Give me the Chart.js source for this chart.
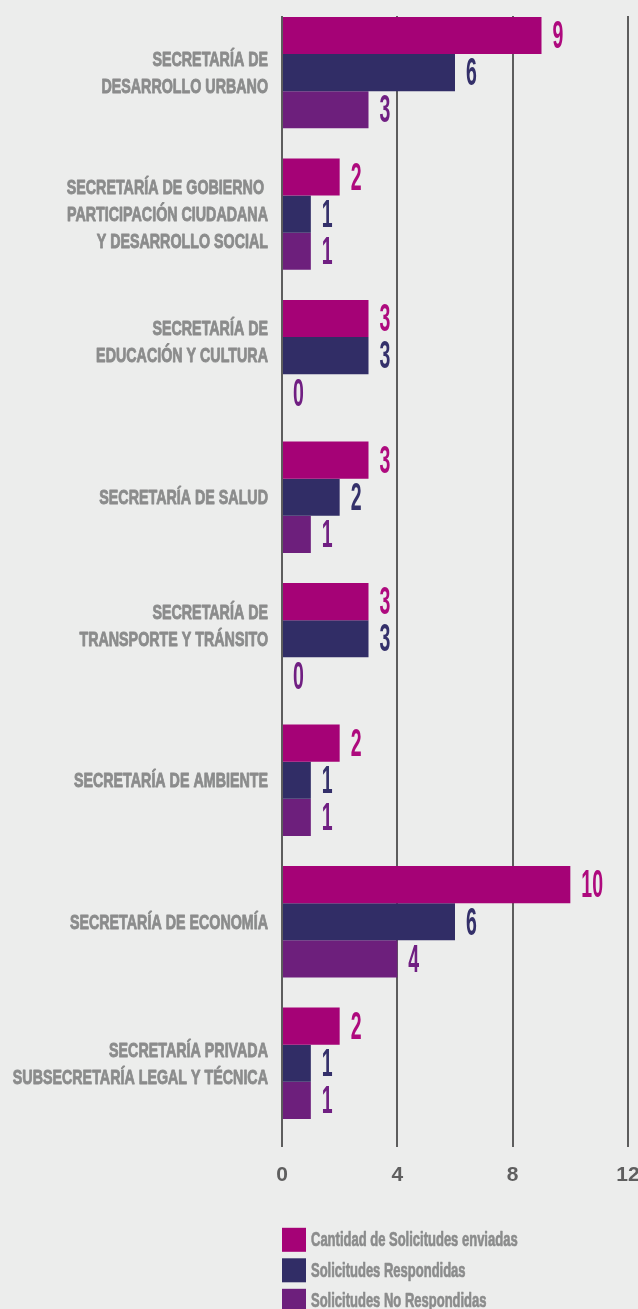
<!DOCTYPE html>
<html>
<head>
<meta charset="utf-8">
<script src="https://cdn.jsdelivr.net/npm/chart.js@4"></script>
<style>
  html, body { margin: 0; padding: 0; background: #ecedec; overflow: hidden; }
  #wrap { width: 638px; height: 1309px; position: relative; }
</style>
</head>
<body>
<div id="wrap"><canvas id="chart"></canvas></div>
<script>
// Secretarías (each entry is the list of lines of its label)
const categories = [
  ['SECRETARÍA DE', 'DESARROLLO URBANO'],
  ['SECRETARÍA DE GOBIERNO ', 'PARTICIPACIÓN CIUDADANA', 'Y DESARROLLO SOCIAL'],
  ['SECRETARÍA DE', 'EDUCACIÓN Y CULTURA', ''],
  ['SECRETARÍA DE SALUD'],
  ['SECRETARÍA DE', 'TRANSPORTE Y TRÁNSITO', ''],
  ['SECRETARÍA DE AMBIENTE'],
  ['SECRETARÍA DE ECONOMÍA'],
  ['SECRETARÍA PRIVADA', 'SUBSECRETARÍA LEGAL Y TÉCNICA']
];

const seriesNames = [
  'Cantidad de Solicitudes enviadas',
  'Solicitudes Respondidas',
  'Solicitudes No Respondidas'
];

const enviadas      = [9, 2, 3, 3, 3, 2, 10, 2];
const respondidas   = [6, 1, 3, 2, 3, 1, 6, 1];
const noRespondidas = [3, 1, 0, 1, 0, 1, 4, 1];

const xTicks = [0, 4, 8, 12];

const barColors   = ['#a50276', '#312d66', '#6d1f7c'];
const labelColors = ['#ae0a7e', '#34306a', '#701f82'];

const FONT = '"Liberation Sans", Arial, sans-serif';

// Draws text squeezed horizontally to imitate a condensed typeface;
// an optional stroke makes the strokes a little heavier
function squeezed(ctx, text, x, y, sx, align, weight) {
  ctx.save();
  ctx.translate(x, y);
  ctx.scale(sx, 1);
  ctx.textAlign = align;
  ctx.fillText(text, 0, 0);
  if (weight) {
    ctx.strokeStyle = ctx.fillStyle;
    ctx.lineWidth = weight;
    ctx.lineJoin = 'round';
    ctx.strokeText(text, 0, 0);
  }
  ctx.restore();
}

const annotations = {
  id: 'annotations',
  afterDraw(chart) {
    const ctx = chart.ctx;
    const area = chart.chartArea;
    const yScale = chart.scales.y;

    // category labels, right aligned against the axis
    ctx.save();
    ctx.fillStyle = '#8b8c8c';
    ctx.font = 'bold 21px ' + FONT;
    ctx.textBaseline = 'middle';
    const lineH = 27;
    categories.forEach((lines, i) => {
      const yc = yScale.getPixelForValue(i);
      const y0 = yc - (lines.length - 1) * lineH / 2;
      lines.forEach((line, j) => {
        squeezed(ctx, line, area.left - 14, y0 + j * lineH + 1, 0.68, 'right', 0.9);
      });
    });
    ctx.restore();

    // value labels at the end of each bar
    ctx.save();
    ctx.font = 'bold 39px ' + FONT;
    ctx.textBaseline = 'middle';
    chart.data.datasets.forEach((ds, di) => {
      const meta = chart.getDatasetMeta(di);
      ctx.fillStyle = labelColors[di];
      meta.data.forEach((bar, i) => {
        squeezed(ctx, String(ds.data[i]), bar.x + 11, bar.y + 2, 0.5, 'left');
      });
    });
    ctx.restore();

    // legend, stacked vertically under the axis
    ctx.save();
    ctx.font = 'bold 20px ' + FONT;
    ctx.textBaseline = 'middle';
    const lx = area.left;
    const ly = area.bottom + 81;
    seriesNames.forEach((name, i) => {
      const top = ly + i * 30.5;
      ctx.fillStyle = barColors[i];
      ctx.fillRect(lx, top, 24, 24);
      ctx.fillStyle = '#8b8c8c';
      squeezed(ctx, name, lx + 29, top + 13, 0.65, 'left', 0.7);
    });
    ctx.restore();
  }
};

new Chart(document.getElementById('chart'), {
  type: 'bar',
  data: {
    // numeric positions along the index axis, one per secretaría
    labels: categories.map((_, i) => i),
    datasets: [
      { label: seriesNames[0], data: enviadas,      backgroundColor: barColors[0] },
      { label: seriesNames[1], data: respondidas,   backgroundColor: barColors[1] },
      { label: seriesNames[2], data: noRespondidas, backgroundColor: barColors[2] }
    ]
  },
  options: {
    indexAxis: 'y',
    responsive: true,
    maintainAspectRatio: false,
    animation: false,
    categoryPercentage: 0.787,
    barPercentage: 1,
    layout: { padding: { left: 282, top: 16, bottom: 105, right: 10 } },
    plugins: {
      legend: { display: false },
      tooltip: { enabled: false }
    },
    scales: {
      x: {
        min: 0,
        max: 12,
        afterBuildTicks(scale) { scale.ticks = xTicks.map(v => ({ value: v })); },
        afterFit(scale) { scale.paddingLeft = 0; scale.paddingRight = 0; },
        grid: { color: '#5d5d5d', lineWidth: 2, drawTicks: false },
        border: { display: false },
        ticks: {
          padding: 16,
          color: '#5f5f5f',
          font: { family: FONT, size: 21, weight: 'bold' }
        }
      },
      y: {
        type: 'linear',
        reverse: true,
        offset: false,
        min: -0.4,
        max: 7.59,
        afterBuildTicks(scale) { scale.ticks = categories.map((_, i) => ({ value: i })); },
        display: false
      }
    }
  },
  plugins: [annotations]
});
</script>
</body>
</html>
